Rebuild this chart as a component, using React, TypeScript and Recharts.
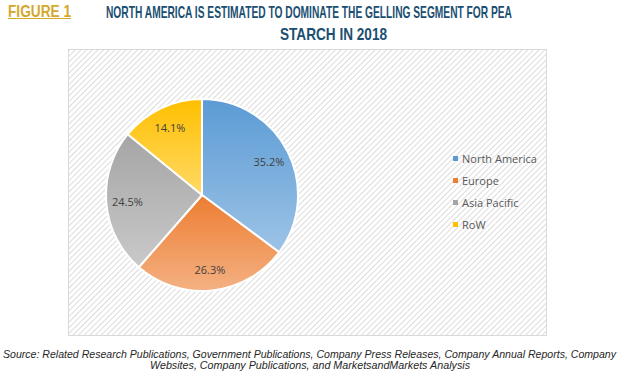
import { Cell, Legend, Pie, PieChart } from 'recharts';

const regions = ['North America', 'Europe', 'Asia Pacific', 'RoW'];
const shares = [35.2, 26.3, 24.5, 14.1];

// top / bottom colours of each slice gradient
const topColors = ['#5B9BD5', '#ED7D31', '#A5A5A5', '#FFC000'];
const bottomColors = ['#9DC3E6', '#F4B183', '#C9C9C9', '#FFD966'];

const chartData = regions.map((name, i) => ({ name, value: shares[i] }));

const sans = '"Liberation Sans", Arial, sans-serif';

const renderLabel = ({ cx, cy, midAngle, outerRadius, value }: any) => {
  const RADIAN = Math.PI / 180;
  const r = outerRadius * 0.78;
  const x = cx + r * Math.cos(-midAngle * RADIAN);
  const y = cy + r * Math.sin(-midAngle * RADIAN);
  return (
    <text x={x} y={y} fill="#404040" textAnchor="middle" dominantBaseline="central"
      fontSize={11} fontFamily='"Open Sans", sans-serif'>
      {`${value.toFixed(1)}%`}
    </text>
  );
};

// legend built from our own arrays so order stays as in the source
const renderLegend = () => (
  <div>
    {regions.map((name, i) => (
      <div key={name} style={{ display: 'flex', alignItems: 'center', height: 22 }}>
        <span style={{ width: 5, height: 5, background: topColors[i], marginRight: 4 }} />
        <span style={{ fontSize: 11, color: '#595959', fontFamily: '"Open Sans", sans-serif' }}>{name}</span>
      </div>
    ))}
  </div>
);

export default function App() {
  return (
    <div style={{ position: 'absolute', left: 0, top: 0, width: 619, height: 380, background: '#fff' }}>
      <svg width={619} height={380} style={{ position: 'absolute', left: 0, top: 0 }}>
        <defs>
          <pattern id="hatch" width={4} height={4} patternUnits="userSpaceOnUse" patternTransform="rotate(45)">
            <rect width={4} height={4} fill="#ffffff" />
            <line x1={0} y1={0} x2={0} y2={4} stroke="#dcdcdc" strokeWidth={2} />
          </pattern>
        </defs>

        {/* title */}
        <text x={8} y={16.5} fontFamily={sans} fontWeight="bold" fontSize={16} fill="#D4A72C"
          textLength={63} lengthAdjust="spacingAndGlyphs">FIGURE 1</text>
        <line x1={8} y1={18.5} x2={71} y2={18.5} stroke="#D4A72C" strokeWidth={1.2} />
        <text x={106} y={18} fontFamily={sans} fontWeight="bold" fontSize={17} fill="#1B4F72"
          textLength={406} lengthAdjust="spacingAndGlyphs">
          NORTH AMERICA IS ESTIMATED TO DOMINATE THE GELLING SEGMENT FOR PEA
        </text>
        <text x={280} y={40} fontFamily={sans} fontWeight="bold" fontSize={17} fill="#1B4F72"
          textLength={107} lengthAdjust="spacingAndGlyphs">STARCH IN 2018</text>

        {/* hatched plot frame */}
        <rect x={68.5} y={49.5} width={478} height={286} fill="url(#hatch)" stroke="#d9d9d9" strokeWidth={1} />

        {/* source */}
        <text x={3} y={358} fontFamily={sans} fontStyle="italic" fontSize={11} fill="#262626"
          textLength={613} lengthAdjust="spacingAndGlyphs">
          Source: Related Research Publications, Government Publications, Company Press Releases, Company Annual Reports, Company
        </text>
        <text x={150} y={369} fontFamily={sans} fontStyle="italic" fontSize={11} fill="#262626"
          textLength={320} lengthAdjust="spacingAndGlyphs">
          Websites, Company Publications, and MarketsandMarkets Analysis
        </text>
      </svg>

      <div style={{ position: 'absolute', left: 0, top: 0 }}>
        <PieChart width={619} height={380}>
          <defs>
            {regions.map((r, i) => (
              <linearGradient key={r} id={`grad-${i}`} x1="0" y1="0" x2="0" y2="1">
                <stop offset="0%" stopColor={topColors[i]} />
                <stop offset="100%" stopColor={bottomColors[i]} />
              </linearGradient>
            ))}
          </defs>
          <Pie
            data={chartData}
            dataKey="value"
            nameKey="name"
            cx={197}
            cy={190}
            outerRadius={96}
            startAngle={90}
            endAngle={-270}
            stroke="#fff"
            strokeWidth={2}
            labelLine={false}
            label={renderLabel}
            isAnimationActive={false}
          >
            {chartData.map((entry, index) => (
              <Cell key={`cell-${index}`} fill={`url(#grad-${index})`} />
            ))}
          </Pie>
          <Legend
            layout="vertical"
            content={renderLegend}
            wrapperStyle={{ left: 453, top: 147, width: 100 }}
          />
        </PieChart>
      </div>
    </div>
  );
}
